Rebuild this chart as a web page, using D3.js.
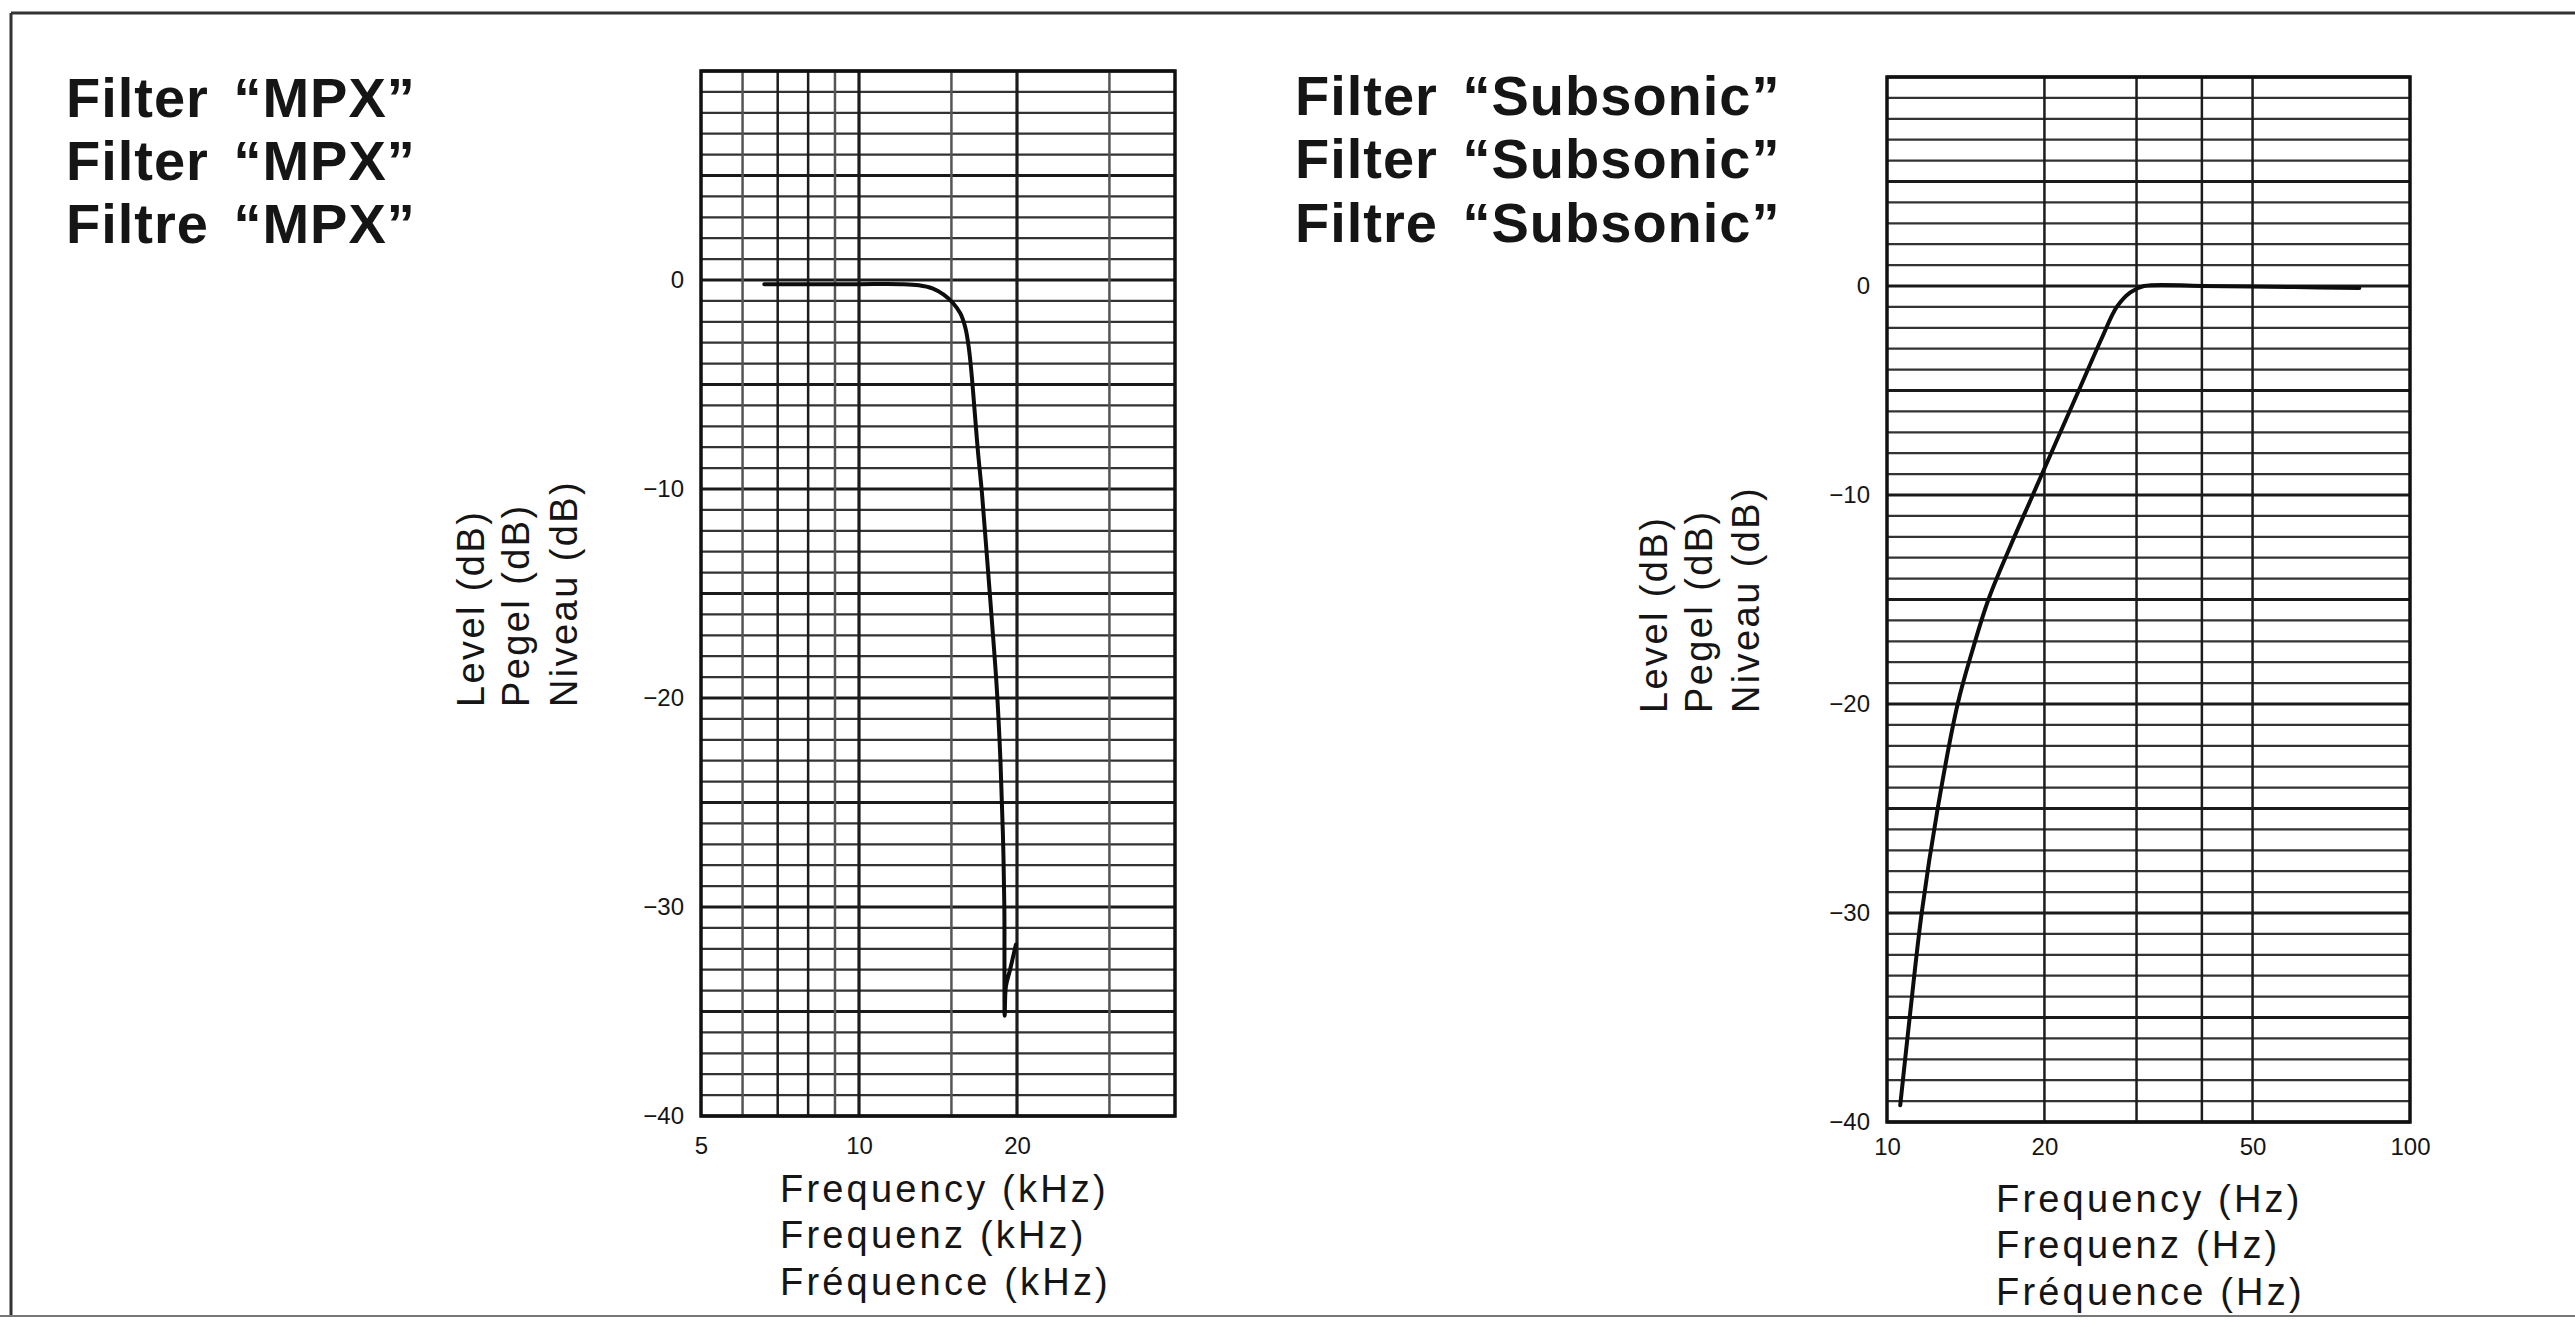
<!DOCTYPE html>
<html>
<head>
<meta charset="utf-8">
<script src="https://cdn.jsdelivr.net/npm/d3@7"></script>
<style>
  html, body { margin: 0; padding: 0; background: #fff; }
  svg { display: block; }
  text { font-family: "Liberation Sans", Arial, Helvetica, sans-serif; fill: #151515; }
</style>
</head>
<body>
<svg id="chart" width="2575" height="1327"></svg>
<script>
// ---------------- DATA ----------------
const mpxTitles = ["Filter \u201CMPX\u201D", "Filter \u201CMPX\u201D", "Filtre \u201CMPX\u201D"];
const subTitles = ["Filter \u201CSubsonic\u201D", "Filter \u201CSubsonic\u201D", "Filtre \u201CSubsonic\u201D"];
const yLabels = ["Level (dB)", "Pegel (dB)", "Niveau (dB)"];
const mpxXLabels = ["Frequency (kHz)", "Frequenz (kHz)", "Fr\u00E9quence (kHz)"];
const subXLabels = ["Frequency (Hz)", "Frequenz (Hz)", "Fr\u00E9quence (Hz)"];

const yDomain = [-40, 10];
const yTicks = [0, -10, -20, -30, -40];

const mpxDomain = [5, 40];            // kHz
const mpxXTicks = [5, 10, 20];
const mpxGridFreqs = [6, 7, 8, 9, 10, 15, 20, 30];
const mpxFaintFreqs = [6, 9, 15, 30];
const mpxBoldFreqs = [10, 20];

const subDomain = [10, 100];          // Hz
const subXTicks = [10, 20, 50, 100];
const subGridFreqs = [20, 30, 40, 50];

// MPX filter response (kHz, dB)
const mpxFreq  = [6.6, 8, 10, 12, 13, 13.8, 14.5, 15.1, 15.6, 15.95, 16.2, 16.4, 16.6, 16.85, 17.15, 17.5, 17.9, 18.3, 18.6, 18.8, 18.92, 18.95, 19.05, 19.4, 19.9];
const mpxLevel = [-0.2, -0.2, -0.2, -0.2, -0.25, -0.4, -0.7, -1.1, -1.6, -2.3, -3.3, -4.6, -6.2, -8.2, -10.2, -13, -16.2, -19.5, -23, -26.5, -30, -35.2, -33.8, -33, -31.8];

// Subsonic filter response (Hz, dB)
const subFreq  = [10.6, 11.05, 11.65, 12.5, 13.65, 14.54, 15.63, 17.18, 19.0, 21.02, 23.26, 25.74, 27.5, 29.2, 31, 40, 60, 80];
const subLevel = [-39.2, -35, -30, -25, -20, -17.5, -15, -12.5, -10, -7.5, -5, -2.5, -1.0, -0.3, 0, 0, -0.05, -0.1];

// ---------------- DRAW ----------------
const svg = d3.select("#chart");

// page frame
svg.append("line").attr("x1", 11).attr("y1", 13).attr("x2", 2575).attr("y2", 13)
  .attr("stroke", "#333").attr("stroke-width", 3);
svg.append("line").attr("x1", 11).attr("y1", 13).attr("x2", 11).attr("y2", 1316)
  .attr("stroke", "#333").attr("stroke-width", 3);
svg.append("line").attr("x1", 0).attr("y1", 1316).attr("x2", 2575).attr("y2", 1316)
  .attr("stroke", "#777").attr("stroke-width", 2);

function panel(cfg) {
  const x = d3.scaleLog().domain(cfg.xDomain).range(cfg.xRange);
  const y = d3.scaleLinear().domain(yDomain).range(cfg.yRange);
  const g = svg.append("g");

  // horizontal grid every 1 dB
  g.append("g").selectAll("line")
    .data(d3.range(yDomain[0], yDomain[1] + 1))
    .join("line")
    .attr("x1", cfg.xRange[0]).attr("x2", cfg.xRange[1])
    .attr("y1", d => y(d)).attr("y2", d => y(d))
    .attr("stroke", d => d % 5 === 0 ? "#1a1a1a" : "#333")
    .attr("stroke-width", d => d % 5 === 0 ? 3 : 2.3);

  // vertical grid
  g.append("g").selectAll("line")
    .data(cfg.gridFreqs)
    .join("line")
    .attr("x1", d => x(d)).attr("x2", d => x(d))
    .attr("y1", cfg.yRange[0]).attr("y2", cfg.yRange[1])
    .attr("stroke", d => cfg.faint.includes(d) ? "#555" : "#1c1c1c")
    .attr("stroke-width", d => cfg.bold.includes(d) ? 3.2 : 2.5);

  // frame
  g.append("rect")
    .attr("x", cfg.xRange[0]).attr("y", cfg.yRange[1])
    .attr("width", cfg.xRange[1] - cfg.xRange[0])
    .attr("height", cfg.yRange[0] - cfg.yRange[1])
    .attr("fill", "none").attr("stroke", "#111").attr("stroke-width", 3.5);

  // y axis labels
  const yAxis = d3.axisLeft(y).tickValues(yTicks).tickSize(0).tickPadding(17)
    .tickFormat(d => d === 0 ? "0" : "\u2212" + Math.abs(d));
  const ya = g.append("g").attr("transform", `translate(${cfg.xRange[0]},0)`).call(yAxis);
  ya.select(".domain").remove();
  ya.selectAll("text").style("font-size", "24px").style("font-family", "'Liberation Sans', Arial, sans-serif").attr("fill", "#1a1a1a");

  // x axis labels
  const xAxis = d3.axisBottom(x).tickValues(cfg.xTicks).tickSize(0).tickPadding(cfg.xPad)
    .tickFormat(d3.format("d"));
  const xa = g.append("g").attr("transform", `translate(0,${cfg.yRange[0]})`).call(xAxis);
  xa.select(".domain").remove();
  xa.selectAll("text").style("font-size", "24px").style("font-family", "'Liberation Sans', Arial, sans-serif").attr("fill", "#1a1a1a");

  // curve
  const pts = cfg.freq.map((f, i) => [f, cfg.level[i]]);
  const line = d3.line().x(d => x(d[0])).y(d => y(d[1])).curve(d3.curveCatmullRom.alpha(0.5));
  g.append("path").datum(pts).attr("d", line)
    .attr("fill", "none").attr("stroke", "#0d0d0d").attr("stroke-width", 4)
    .attr("stroke-linecap", "round").attr("stroke-linejoin", "round");

  // titles
  g.append("g").selectAll("text").data(cfg.titles).join("text")
    .attr("x", cfg.titleX).attr("y", (d, i) => cfg.titleY[i])
    .style("font-size", "56px").style("font-weight", "bold")
    .style("letter-spacing", "1px").style("word-spacing", "8px")
    .attr("fill", "#080808")
    .text(d => d);

  // y label (rotated)
  g.append("g").selectAll("text").data(yLabels).join("text")
    .attr("transform", (d, i) => `translate(${cfg.yLabX[i]},${cfg.yLabStart}) rotate(-90)`)
    .style("font-size", "38px").style("letter-spacing", "2.4px")
    .text(d => d);

  // x label
  g.append("g").selectAll("text").data(cfg.xLabels).join("text")
    .attr("x", cfg.xLabX).attr("y", (d, i) => cfg.xLabY[i])
    .style("font-size", "38px").style("letter-spacing", "3.2px")
    .text(d => d);
}

panel({
  xDomain: mpxDomain, xRange: [701, 1175], yRange: [1116, 71],
  gridFreqs: mpxGridFreqs, faint: mpxFaintFreqs, bold: mpxBoldFreqs,
  xTicks: mpxXTicks, xPad: 21,
  freq: mpxFreq, level: mpxLevel,
  titles: mpxTitles, titleX: 66, titleY: [117, 180, 243],
  yLabX: [484, 529, 577], yLabStart: 707,
  xLabels: mpxXLabels, xLabX: 780, xLabY: [1202, 1248, 1295]
});

panel({
  xDomain: subDomain, xRange: [1887, 2410], yRange: [1122, 77],
  gridFreqs: subGridFreqs, faint: [], bold: [],
  xTicks: subXTicks, xPad: 16,
  freq: subFreq, level: subLevel,
  titles: subTitles, titleX: 1295, titleY: [115, 178, 242],
  yLabX: [1667, 1712, 1759], yLabStart: 713,
  xLabels: subXLabels, xLabX: 1996, xLabY: [1212, 1258, 1305]
});
</script>
</body>
</html>
